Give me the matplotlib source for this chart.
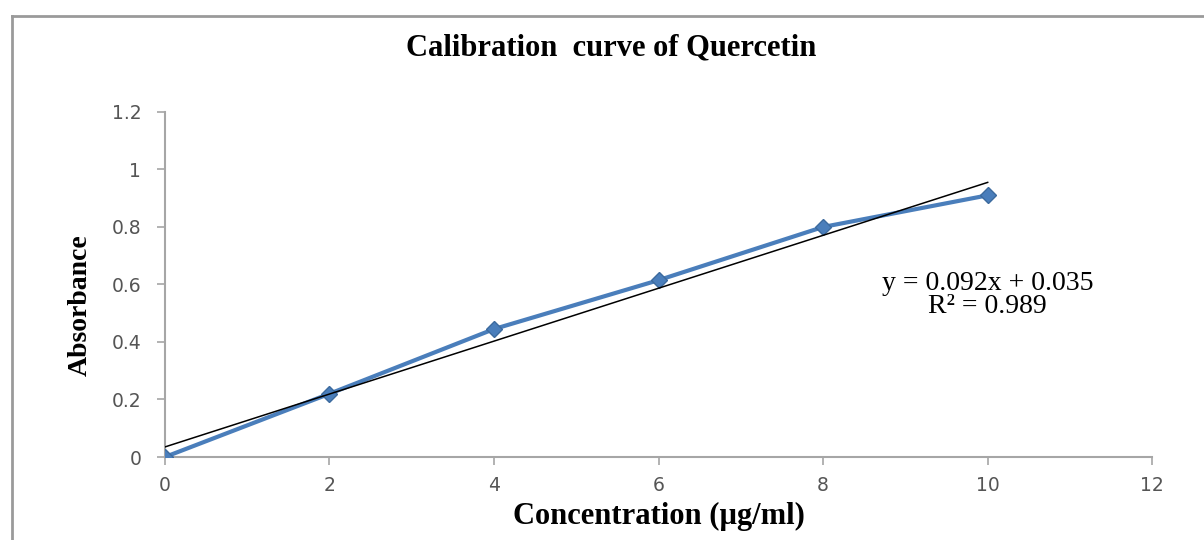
import numpy as np
import matplotlib.pyplot as plt
from matplotlib.lines import Line2D

conc = [0, 2, 4, 6, 8, 10]
absorb = [0.0, 0.22, 0.445, 0.615, 0.80, 0.91]
slope = 0.092
intercept = 0.035
xticks = [0, 2, 4, 6, 8, 10, 12]
yticks = [0, 0.2, 0.4, 0.6, 0.8, 1, 1.2]
yticklabels = ['0', '0.2', '0.4', '0.6', '0.8', '1', '1.2']

plt.rcParams['font.family'] = 'DejaVu Sans'
fig = plt.figure(figsize=(12.04, 5.40), dpi=100)
ax = fig.add_axes([0.137, 0.1537, 0.82, 0.639])

ax.plot(conc, absorb, color='#4A7EBB', lw=3, marker='D', markersize=8,
        markerfacecolor='#4A7EBB', markeredgecolor='#3C6A9E', zorder=3)
x = np.array([0, 10])
ax.plot(x, slope*x + intercept, color='black', lw=1.1, zorder=4)

ax.set_xlim(0, 12)
ax.set_ylim(0, 1.2)
ax.set_xticks(xticks)
ax.set_yticks(yticks)
ax.set_yticklabels(yticklabels)
for s in ['top', 'right']:
    ax.spines[s].set_visible(False)
for s in ['left', 'bottom']:
    ax.spines[s].set_color('#a6a6a6')
    ax.spines[s].set_linewidth(1.5)
ax.tick_params(colors='#a6a6a6', length=6, width=1.2, labelsize=13.5,
               labelcolor='#555555')
ax.tick_params(axis='x', pad=8)
ax.tick_params(axis='y', pad=11)
ax.set_xlabel('Concentration (µg/ml)', family='Liberation Serif',
              fontweight='bold', fontsize=22, va='center')
ax.set_ylabel('Absorbance', family='Liberation Serif', fontweight='bold',
              fontsize=20)
ax.xaxis.set_label_coords(0.50, -0.172)
ax.yaxis.set_label_coords(-0.073, 0.44)

ax.text(10.0, 0.605, 'y = 0.092x + 0.035', family='Liberation Serif',
        fontsize=20, ha='center', va='center')
ax.text(10.0, 0.525, 'R² = 0.989', family='Liberation Serif',
        fontsize=20, ha='center', va='center')

fig.text(0.508, 0.912, 'Calibration  curve of Quercetin', family='Liberation Serif',
         fontweight='bold', fontsize=22, ha='center', va='center')

# frame around the chart area
fig.add_artist(Line2D([12/1204, 1], [1-16/540, 1-16/540], color='#9a9a9a', lw=2))
fig.add_artist(Line2D([12/1204, 12/1204], [0, 1-16/540], color='#9a9a9a', lw=2))

fig.savefig('out.png', dpi=100)
